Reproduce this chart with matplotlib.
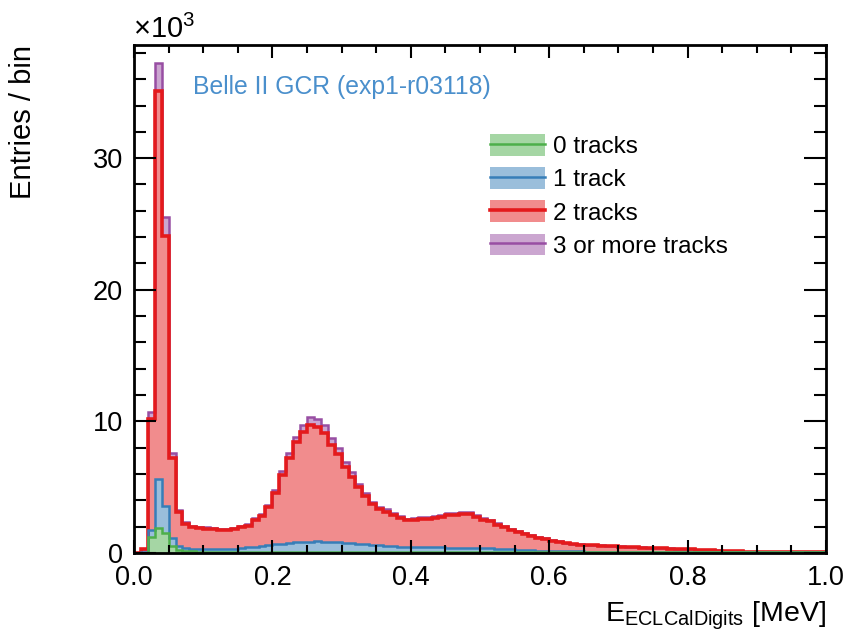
import matplotlib.pyplot as plt
import numpy as np
from matplotlib.patches import Patch
from matplotlib.lines import Line2D
from matplotlib.ticker import MultipleLocator

plt.rcParams['font.family'] = ['Liberation Sans', 'DejaVu Sans']
plt.rcParams['mathtext.fontset'] = 'custom'
plt.rcParams['mathtext.rm'] = 'Liberation Sans'

# binning: 100 bins from 0 to 1 MeV
e_min, e_max, n_bins = 0.0, 1.0, 100

# entries per bin, in units of 10^3
n_0trk = [0, .03, 1.25, 1.9, 1.55, .5, .2, .15, .12, .11,
          .1, .1, .1, .1, .1, .1, .1, .1, .1, .1,
          .1, .1, .1, .1, .1, .1, .1, .1, .1, .1,
          .1, .1, .1, .1, .1, .1, .1, .1, .1, .1,
          .1, .1, .1, .1, .1, .09, .09, .09, .09, .09,
          .09, .08, .08, .08, .08, .07, .07, .07, .07, .06,
          .06, .06, .06, .06, .06, .05, .05, .05, .05, .05,
          .05, .05, .05, .05, .04, .04, .04, .04, .04, .04,
          .04, .04, .04, .04, .04, .04, .04, .04, .04, .04,
          .04, .04, .04, .04, .04, .04, .04, .04, .04, .04]
n_1trk = [0, .03, .51, 3.7, 2.05, .63, .3, .25, .21, .19,
          .18, .18, .19, .2, .23, .27, .32, .38, .44, .5,
          .56, .62, .67, .71, .75, .77, .78, .77, .75, .72,
          .68, .64, .6, .56, .52, .48, .45, .42, .39, .37,
          .35, .34, .33, .32, .32, .32, .32, .31, .31, .3,
          .28, .27, .25, .22, .19, .18, .15, .13, .11, .1,
          .09, .08, .07, .06, .06, .06, .05, .05, .05, .04,
          .04, .04, .03, .03, .03, .03, .03, .03, .02, .02,
          .02, .02, .02, .02, .01, .01, .01, .01, .01, .01,
          .01, .01, .01, .01, .01, .01, .01, .01, .01, .01]
n_2trk = [0, .24, 8.44, 29.5, 20.5, 6.07, 2.6, 1.8, 1.65, 1.6,
          1.56, 1.52, 1.47, 1.46, 1.47, 1.57, 1.65, 2.02, 2.3, 2.9,
          3.89, 5.18, 6.48, 7.59, 8.35, 8.83, 8.67, 8.28, 7.35, 6.68,
          5.72, 5.06, 4.3, 3.64, 3.08, 2.77, 2.6, 2.38, 2.16, 2.01,
          2.07, 2.12, 2.17, 2.23, 2.28, 2.47, 2.49, 2.58, 2.53, 2.36,
          2.16, 2.05, 1.82, 1.67, 1.49, 1.37, 1.21, 1.1, .99, .92,
          .79, .7, .62, .56, .52, .49, .47, .45, .42, .41,
          .38, .35, .34, .32, .31, .29, .28, .26, .25, .24,
          .21, .19, .16, .14, .13, .11, .09, .07, .05, .04,
          .03, .02, .02, .01, .01, .01, .01, .01, 0, 0]
n_3trk = [0, .02, .5, 2.1, 1.4, .4, .15, .12, .1, .1,
          .1, .1, .1, .1, .1, .11, .12, .13, .15, .18,
          .22, .3, .37, .45, .52, .6, .65, .6, .52, .45,
          .38, .32, .27, .23, .2, .18, .17, .16, .15, .14,
          .14, .14, .14, .14, .15, .15, .15, .15, .15, .14,
          .13, .12, .11, .1, .09, .08, .07, .07, .06, .06,
          .05, .05, .04, .04, .04, .03, .03, .03, .03, .03,
          .03, .02, .02, .02, .02, .02, .02, .02, .02, .02,
          .02, .01, .01, .01, .01, .01, .01, .01, .01, 0,
          0, 0, 0, 0, 0, 0, 0, 0, 0, 0]

labels = ['0 tracks', '1 track', '2 tracks', '3 or more tracks']
colors = ['#4daf4a', '#377eb8', '#e41a1c', '#984ea3']
widths = [1.8, 1.8, 2.6, 1.8]

edges = np.linspace(e_min, e_max, n_bins + 1)
layers = [np.array(v) for v in (n_0trk, n_1trk, n_2trk, n_3trk)]

fig = plt.figure(figsize=(8.52, 6.39), dpi=100)
ax = fig.add_axes([0.1573, 0.1346, 0.9695 - 0.1573, 0.9296 - 0.1346])

# filled bands of the stack
bottom = np.zeros(n_bins)
tops = []
for vals, col in zip(layers, colors):
    top = bottom + vals
    ax.stairs(top, edges, baseline=bottom, fill=True, color=col, alpha=0.5, lw=0)
    tops.append(top)
    bottom = top

# outlines, drawn from the top of the stack downwards
for top, col, lw in reversed(list(zip(tops, colors, widths))):
    ax.stairs(top, edges, baseline=0, color=col, lw=lw)

ax.set_xlim(e_min, e_max)
ax.set_ylim(0, 38.6)

ax.xaxis.set_major_locator(MultipleLocator(0.2))
ax.xaxis.set_minor_locator(MultipleLocator(0.05))
ax.yaxis.set_major_locator(MultipleLocator(10))
ax.yaxis.set_minor_locator(MultipleLocator(2))
ax.tick_params(axis='x', which='major', direction='in', top=True, length=9.5, width=1.5,
               labelsize=19.5, pad=9)
ax.tick_params(axis='x', which='minor', direction='in', top=True, length=5.5, width=1.5)
ax.tick_params(axis='y', which='major', direction='in', right=True, length=16, width=1.5,
               labelsize=19.5, pad=8)
ax.tick_params(axis='y', which='minor', direction='in', right=True, length=8.5, width=1.5)
for sp in ax.spines.values():
    sp.set_linewidth(2)

ax.set_xlabel(r'$\mathregular{E_{ECLCalDigits}}$ [MeV]', fontsize=20.5, loc='right')
ax.xaxis.set_label_coords(1.0, -0.092)
ax.set_ylabel('Entries / bin', fontsize=21, loc='top')
ax.yaxis.set_label_coords(-0.14, 1.0)

fig.text(133 / 852, 1 - 38 / 639, r'$\mathregular{\times10^{3}}$', fontsize=21,
         ha='left', va='baseline')
fig.text(193 / 852, 1 - 87 / 639, 'Belle II GCR (exp1-r03118)', fontsize=17.8,
         color='#4a8fcc', ha='left', va='center')

handles = [(Patch(facecolor=c, alpha=0.5, edgecolor='none'), Line2D([], [], color=c, lw=lw))
           for c, lw in zip(colors, widths)]
ax.legend(handles, labels, loc='upper left', bbox_to_anchor=(490 / 852, 1 - 134 / 639),
          bbox_transform=fig.transFigure, frameon=False, fontsize=17.5, handlelength=2.26,
          handleheight=1.0, labelspacing=0.37, handletextpad=0.33, borderpad=0,
          borderaxespad=0)

fig.savefig('out.png', dpi=100)
